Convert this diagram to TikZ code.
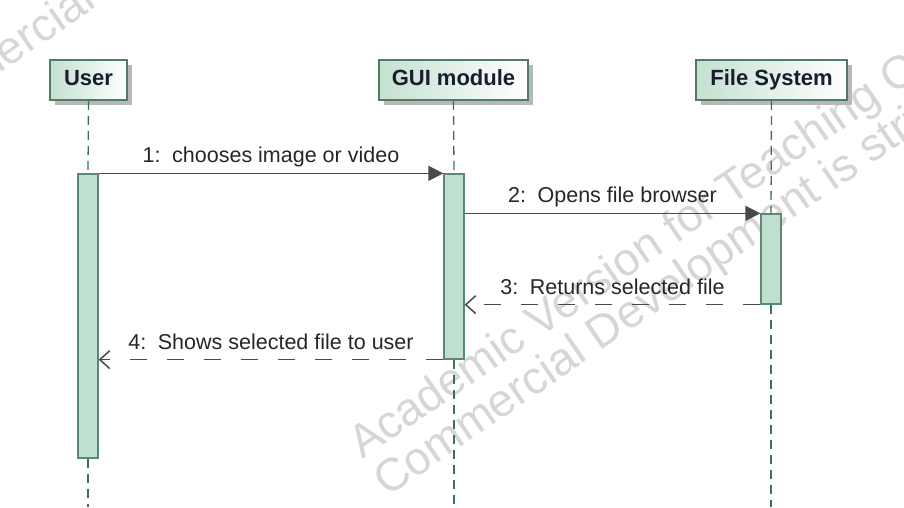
\documentclass[tikz,border=0pt]{standalone}
\usepackage{fontspec}
\setmainfont{Liberation Sans}
\usetikzlibrary{arrows.meta,shadows}

\definecolor{boxline}{HTML}{4F7D65}
\definecolor{boxfill}{HTML}{C4E1D1}
\definecolor{actfill}{HTML}{C0E0CF}
\definecolor{actline}{HTML}{5A8A71}
\definecolor{lifecol}{HTML}{3F6F57}
\definecolor{msgcol}{HTML}{4A4A4A}
\definecolor{titlecol}{HTML}{1C1C2E}
\definecolor{wmark}{HTML}{D6D6D6}

\begin{document}
\begin{tikzpicture}[x=1pt,y=-1pt,
  participant/.style={draw=boxline, line width=1.6pt, left color=boxfill, right color=white,
    minimum height=40pt, inner sep=0pt, text=titlecol, text height=16pt, text depth=4.5pt,
    font=\fontsize{22}{26}\selectfont\bfseries,
    drop shadow={shadow xshift=5pt, shadow yshift=-5pt, fill=black!28, opacity=1}},
  activation/.style={draw=actline, fill=actfill, line width=1.3pt, minimum width=20pt, inner sep=0pt},
  lifeline/.style={draw=lifecol, line width=1.3pt, dash pattern=on 9pt off 6pt},
  call/.style={draw=msgcol, line width=1.5pt, -{Triangle[length=15pt,width=15pt]}},
  reply/.style={draw=msgcol, line width=1.5pt, dash pattern=on 17pt off 20pt,
    -{Straight Barb[length=10pt,width=18pt]}},
  msglabel/.style={font=\fontsize{21.5}{25}\selectfont, text=black!85, anchor=base, yshift=10.5pt},
  wm/.style={font=\fontsize{46}{50}\selectfont, text=wmark, anchor=base west, inner sep=0pt, rotate=34.5}]

\useasboundingbox (0,0) rectangle (904,507);
\begin{scope}
\clip (0,0) rectangle (904,507);
% watermark
\node[wm] (wm1) at (362,460) {Academic Version for Teaching Only};
\node[wm] (wm2) at (387,498) {Commercial Development is strictly prohibited};
\node[wm] (wm3) at (-104,145) {Commercial Development is strictly prohibited};
\end{scope}

% participants
\node[participant, minimum width=77pt]  (user) at (88.5,80) {User};
\node[participant, minimum width=149pt] (gui)  at (453.5,80) {GUI module};
\node[participant, minimum width=151pt] (fs)   at (771.5,80) {File System};

% activation bars
\node[activation, minimum height=284pt] (uact) at (88,316) {};
\node[activation, minimum height=185pt] (gact) at (454,266.5) {};
\node[activation, minimum height=90pt]  (fact) at (771,259) {};

% lifeline ends
\coordinate (uend) at (88,507);
\coordinate (gend) at (454,507);
\coordinate (fend) at (771,507);

% lifelines
\draw[lifeline] (user.south) -- (uact.north);
\draw[lifeline] (uact.south) -- (uend);
\draw[lifeline] (gui.south) -- (gact.north);
\draw[lifeline] (gact.south) -- (gend);
\draw[lifeline] (fs.south) -- (fact.north);
\draw[lifeline] (fact.south) -- (fend);

% messages
\draw[call] (uact.north east) -- node[msglabel] {1:\, chooses image or video} (gact.north west);
\draw[call] (gact.east |- fact.north) -- node[msglabel] {2:\, Opens file browser} (fact.north west);
\draw[reply] (fact.south west) -- node[msglabel] {3:\, Returns selected file} (gact.east |- fact.south);
\draw[reply] (gact.south west) -- node[msglabel] {4:\, Shows selected file to user} (uact.east |- gact.south);
\end{tikzpicture}
\end{document}
